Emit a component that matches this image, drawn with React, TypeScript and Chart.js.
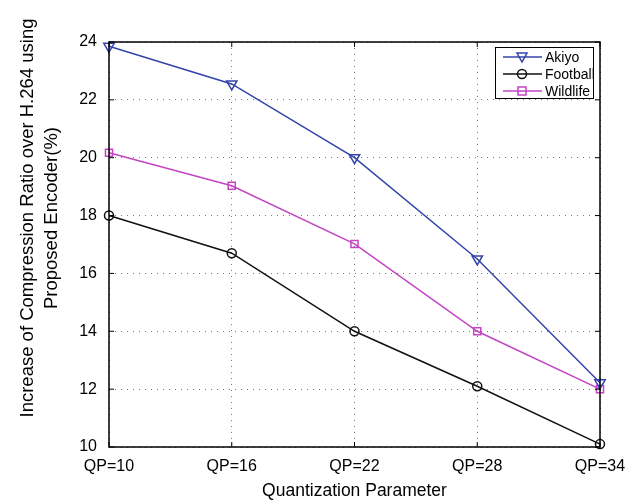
import React, { useEffect, useRef } from "react";
import { Chart, registerables } from "chart.js";

Chart.register(...registerables);

const categories = ["QP=10", "QP=16", "QP=22", "QP=28", "QP=34"];
const akiyo = [23.85, 22.55, 20.0, 16.5, 12.22];
const football = [18.0, 16.7, 14.0, 12.1, 10.1];
const wildlife = [20.17, 19.03, 17.02, 14.0, 12.0];
const seriesNames = ["Akiyo", "Football", "Wildlife"];
const yTitleLines = ["Increase of Compression Ratio over H.264 using", "Proposed Encoder(%)"];
const xTitle = "Quantization Parameter";

const BLUE = "#3344aa";
const BLACK = "#111111";
const MAGENTA = "#c444c4";
const FONT = "'Liberation Sans', Arial, Helvetica, sans-serif";

function drawMarker(ctx: CanvasRenderingContext2D, kind: string, x: number, y: number, color: string) {
  ctx.save();
  ctx.strokeStyle = color;
  ctx.lineWidth = 1.5;
  ctx.beginPath();
  if (kind === "tri") {
    ctx.moveTo(x - 5, y - 4);
    ctx.lineTo(x + 5, y - 4);
    ctx.lineTo(x, y + 5);
    ctx.closePath();
  } else if (kind === "circle") {
    ctx.arc(x, y, 4.5, 0, Math.PI * 2);
  } else {
    ctx.rect(x - 4, y - 4, 8, 8);
  }
  ctx.stroke();
  ctx.restore();
}

const framePlugin = {
  id: "framePlugin",
  afterDraw(chart: any) {
    const ctx: CanvasRenderingContext2D = chart.ctx;
    const a = chart.chartArea;
    const xs = chart.scales.x;
    const ys = chart.scales.y;
    ctx.save();
    // frame
    ctx.strokeStyle = "#000";
    ctx.lineWidth = 1.5;
    ctx.strokeRect(a.left, a.top, a.right - a.left, a.bottom - a.top);
    // inward ticks
    ctx.lineWidth = 1;
    ys.ticks.forEach((t: any) => {
      const y = ys.getPixelForValue(t.value);
      ctx.beginPath();
      ctx.moveTo(a.left, y);
      ctx.lineTo(a.left + 5, y);
      ctx.moveTo(a.right, y);
      ctx.lineTo(a.right - 5, y);
      ctx.stroke();
    });
    categories.forEach((_c, i) => {
      const x = xs.getPixelForValue(i);
      ctx.beginPath();
      ctx.moveTo(x, a.bottom);
      ctx.lineTo(x, a.bottom - 5);
      ctx.moveTo(x, a.top);
      ctx.lineTo(x, a.top + 5);
      ctx.stroke();
    });
    // titles
    ctx.fillStyle = "#000";
    ctx.font = `17.5px ${FONT}`;
    ctx.textAlign = "center";
    ctx.textBaseline = "middle";
    ctx.fillText(xTitle, (a.left + a.right) / 2, 491);
    ctx.save();
    ctx.font = `18.5px ${FONT}`;
    ctx.translate(28, 218);
    ctx.rotate(-Math.PI / 2);
    ctx.fillText(yTitleLines[0], 0, 0);
    ctx.fillText(yTitleLines[1], 0, 24);
    ctx.restore();
    // legend
    const lx = 495, ly = 47, lw = 98, lh = 51;
    ctx.fillStyle = "#fff";
    ctx.fillRect(lx, ly, lw, lh);
    ctx.strokeStyle = "#000";
    ctx.lineWidth = 1;
    ctx.strokeRect(lx + 0.5, ly + 0.5, lw, lh);
    const colors = [BLUE, BLACK, MAGENTA];
    const kinds = ["tri", "circle", "rect"];
    ctx.font = `14px ${FONT}`;
    ctx.textAlign = "left";
    seriesNames.forEach((n, i) => {
      const y = ly + 10 + i * 17;
      ctx.strokeStyle = colors[i];
      ctx.lineWidth = 1.5;
      ctx.beginPath();
      ctx.moveTo(lx + 8, y);
      ctx.lineTo(lx + 47, y);
      ctx.stroke();
      drawMarker(ctx, kinds[i], lx + 27, y, colors[i]);
      ctx.fillStyle = "#000";
      ctx.fillText(n, lx + 50, y + 1);
    });
    ctx.restore();
  },
};

export default function App() {
  const ref = useRef<HTMLCanvasElement>(null);
  useEffect(() => {
    if (!ref.current) return;
    const mk = (label: string, data: number[], color: string, style: any, rot: number, r: number) => ({
      label,
      data,
      borderColor: color,
      backgroundColor: "transparent",
      pointBorderColor: color,
      pointBackgroundColor: "transparent",
      borderWidth: 1.5,
      pointBorderWidth: 1.5,
      pointStyle: style,
      pointRotation: rot,
      pointRadius: r,
      tension: 0,
      clip: false as any,
    });
    const chart = new Chart(ref.current, {
      type: "line",
      data: {
        labels: categories,
        datasets: [
          mk(seriesNames[0], akiyo, BLUE, "triangle", 180, 6),
          mk(seriesNames[1], football, BLACK, "circle", 0, 4.5),
          mk(seriesNames[2], wildlife, MAGENTA, "rect", 0, 5),
        ],
      },
      options: {
        animation: false,
        responsive: false,
        layout: { padding: { top: 42, right: 36, left: 0, bottom: 0 } },
        plugins: { legend: { display: false }, tooltip: { enabled: false } },
        scales: {
          x: {
            offset: false,
            afterFit: (s: any) => {
              s.height = 55;
            },
            grid: {
              color: "#777",
              lineWidth: 1,
              drawTicks: false,
            },
            border: { display: false, dash: [1, 5] },
            ticks: { color: "#000", font: { family: FONT, size: 16 }, padding: 10, maxRotation: 0 },
          },
          y: {
            min: 10,
            max: 24,
            afterFit: (s: any) => {
              s.width = 109;
            },
            grid: { color: "#777", lineWidth: 1, drawTicks: false },
            border: { display: false, dash: [1, 5] },
            ticks: { stepSize: 2, color: "#000", font: { family: FONT, size: 16 }, padding: 12 },
          },
        },
      },
      plugins: [framePlugin],
    });
    return () => chart.destroy();
  }, []);
  return (
    <div style={{ position: "absolute", left: 0, top: 0, width: 636, height: 502, background: "#fff" }}>
      <canvas ref={ref} width={636} height={502} style={{ width: 636, height: 502 }} />
    </div>
  );
}
